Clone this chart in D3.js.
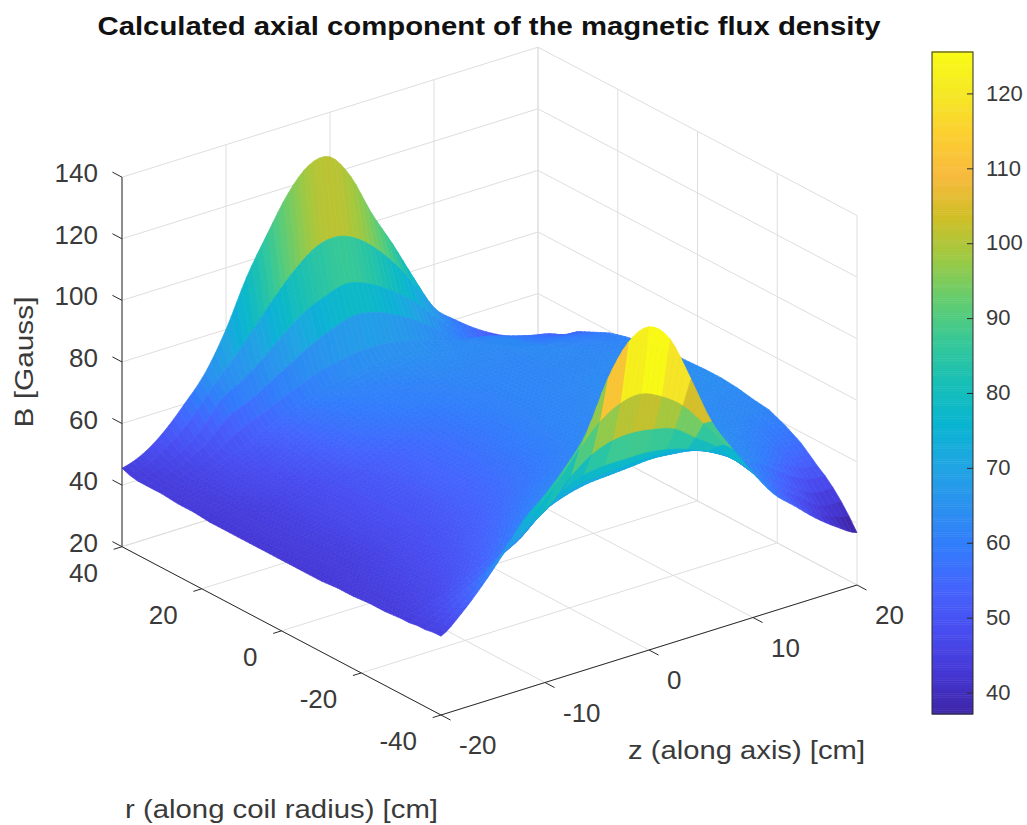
<!DOCTYPE html>
<html>
<head>
<meta charset="utf-8">
<script src="https://cdnjs.cloudflare.com/ajax/libs/d3/7.8.5/d3.min.js"></script>
<style>
body { margin: 0; background: #fff; }
text { font-family: "Liberation Sans", Arial, sans-serif; fill: #3a3a3a; }
</style>
</head>
<body>
<svg id="chart" width="1027" height="825"></svg>
<script>
// coil field surface
const rValues = [40, 38, 36, 34, 32, 30, 26, 22, 18, 14, 10, 6, 2, -2, -6, -10, -14, -18, -22, -26, -30, -32, -34, -36, -38, -40];
const zValues = [-20, -18, -16, -14, -12, -10, -8, -6, -4, -2, 0, 2, 4, 6, 8, 10, 12, 14, 16, 18, 20];
const bRows = [
    [45.5, 48, 53, 60, 68, 80, 95, 107, 118, 125, 125.5, 117, 103, 91, 78, 66, 60, 55, 51, 48, 46],
    [44.5, 47, 51, 57, 65, 72, 80, 88, 95, 100, 101, 98, 92, 84, 74, 64, 58, 54, 50, 48, 46.5],
    [44, 46, 49, 54, 62, 66, 71, 77, 82, 85, 87, 85, 81, 76, 69, 62, 57, 53, 50, 48, 47],
    [44, 45.5, 48, 52, 58, 61, 65, 69, 73, 76, 78, 77, 74, 70, 65, 60, 58, 55, 52, 50, 50],
    [44, 45, 47, 50, 54, 57, 60, 63, 65.5, 67, 68, 68, 67, 65, 63, 61, 60, 58, 56, 54.5, 52],
    [44, 45, 46.5, 49, 51.5, 54.5, 57.5, 60, 62, 63.5, 64.5, 65, 65, 64, 63, 62, 61, 59, 57, 55, 54.5],
    [43.5, 44.5, 46, 48, 50, 53, 56, 58.5, 60, 61, 62, 63, 63.5, 63.5, 63, 63, 63, 60, 59, 58, 57],
    [43.5, 44.5, 46, 47.5, 49.5, 52, 55, 57.5, 59, 60, 60.5, 61.5, 62.5, 62.5, 62.5, 62.5, 63, 62, 61, 60, 59.5],
    [43, 44, 45.5, 47, 48.5, 51, 54, 56.5, 58, 59, 60, 60.5, 61.5, 62, 62, 62, 63, 63, 62, 61.5, 61],
    [43, 44, 45, 46.5, 48, 50, 53, 55, 56.5, 58, 58.5, 60, 61, 61.5, 62, 62, 62.5, 62.5, 62.5, 62, 62],
    [43, 44, 45, 46.5, 48, 49.5, 51.5, 53, 55, 56.5, 58, 59.5, 60.5, 61.5, 62, 62, 62.5, 62.5, 63, 63, 63],
    [43, 44, 45, 46.5, 48, 49.5, 51, 53, 54.5, 56, 57.5, 59, 60.5, 61.5, 62, 62.5, 63, 63, 63.5, 63.5, 63.5],
    [43, 44, 45, 46.5, 48, 49.5, 51, 53, 54.5, 56, 57.5, 59, 60.5, 61.5, 62, 62.5, 63, 63.5, 63.5, 63.5, 63.7],
    [43, 44, 45, 46.5, 48, 49.5, 51, 53, 54.5, 56, 58, 59.5, 61, 62, 62.5, 63, 63.5, 64, 64, 64, 64],
    [43, 44, 45, 46.5, 48, 49.5, 51, 53, 54.5, 56.5, 58, 59.5, 61, 62, 62.5, 63, 63.5, 64, 64, 64, 64],
    [43, 44, 45, 46.5, 48, 49.5, 51.5, 53.5, 55, 57, 58.5, 60, 61.5, 62.5, 63, 63.5, 64, 64, 64, 63.5, 63.5],
    [43.5, 44.5, 45.5, 47, 48.5, 50, 52, 54, 56, 58, 59.5, 61, 62.5, 63.5, 64, 64, 64, 63.5, 63, 62.5, 62.5],
    [43.5, 45, 46, 47.5, 49, 51, 53, 55.5, 58, 60, 61.5, 63, 64, 64.5, 65, 64.5, 64, 63.5, 63, 62.5, 61.8],
    [44, 45, 46.5, 48, 50, 52.5, 55, 58, 60.5, 62.5, 63.5, 65, 66, 66.5, 66, 65.5, 64.5, 63.5, 62, 60, 59.5],
    [44, 45.5, 47, 49, 51.5, 54.5, 58, 61, 63.5, 65.5, 66.5, 67.5, 68, 68, 67.5, 66, 64.5, 62.5, 60, 57.5, 56.5],
    [44.5, 46, 48, 51, 54, 58, 62, 65.5, 68, 69.5, 70, 70.5, 71, 70.5, 69.5, 67, 64, 61, 57, 53.5, 52],
    [44.5, 47, 49.5, 52.5, 56, 60, 64.5, 69, 72, 73, 73.5, 74, 74, 73, 71, 67.5, 63.5, 60, 55, 51, 50],
    [45, 47.5, 51, 54.5, 59, 63, 69, 74, 77, 78, 78, 78, 77, 75, 72, 68, 62, 57, 52, 48, 47.5],
    [45, 48.5, 53, 58, 63, 68, 73, 80, 85, 87.5, 88, 87, 85, 80, 75, 68, 61, 55, 50, 45, 44.5],
    [45.5, 49.5, 55, 62, 69, 75, 82, 90, 97, 101, 102, 99, 94, 86, 77, 68, 60, 53, 47, 43, 41],
    [45.6, 51, 58, 66, 75, 81, 88, 97, 112, 122, 125, 119, 104, 88, 77, 67, 58, 52, 46, 41, 37]
];
const rTicks = [40, 20, 0, -20, -40];
const zTicks = [-20, -10, 0, 10, 20];
const bTicks = [20, 40, 60, 80, 100, 120, 140];
const colorTicks = [40, 50, 60, 70, 80, 90, 100, 110, 120];
const colorRange = [37.2, 125.6];
const parula = ["#3e26a8", "#4537d5", "#484df0", "#4563fd", "#327cfc", "#2b91ef", "#20a5e3", "#08b5d0", "#18bfb6",
    "#37c897", "#64cd6f", "#9dc943", "#d1bf27", "#f8ba3d", "#fccf30", "#f5e924", "#f9fb15"];

function surfaceConfig(){
    let width = 1027;
    let height = 825;
    let corner = {x: 122, y: 546.7};
    let alongR = {x: 319, y: 168.3};
    let alongZ = {x: 416, y: -130};
    let bodyHeight = 369.5;
    let container = d3.select("#chart");
    return {width, height, corner, alongR, alongZ, bodyHeight, container};
}

function surfaceScales(config){
    let rScale = d3.scaleLinear().domain([40, -40]).range([0, 1]);
    let zScale = d3.scaleLinear().domain([-20, 20]).range([0, 1]);
    let bScale = d3.scaleLinear().domain([20, 140]).range([0, config.bodyHeight]);
    let colorScale = d3.scaleLinear()
        .domain(d3.range(parula.length).map(i => colorRange[0] + (colorRange[1] - colorRange[0]) * i / (parula.length - 1)))
        .range(parula)
        .clamp(true);
    let {corner, alongR, alongZ} = config;
    // plain orthographic view, r runs to the front, z to the right
    let project = (r, z, b) => {
        let u = rScale(r);
        let v = zScale(z);
        return [
            corner.x + u * alongR.x + v * alongZ.x,
            corner.y + u * alongR.y + v * alongZ.y - bScale(b)
        ];
    };
    return {rScale, zScale, bScale, colorScale, project};
}

function drawWalls(scales, config){
    let {project} = scales;
    let lines = [];
    bTicks.forEach(b => {
        lines.push([project(40, -20, b), project(40, 20, b)]);
        lines.push([project(40, 20, b), project(-40, 20, b)]);
    });
    zTicks.forEach(z => {
        lines.push([project(40, z, 20), project(40, z, 140)]);
        lines.push([project(40, z, 20), project(-40, z, 20)]);
    });
    rTicks.forEach(r => {
        lines.push([project(r, 20, 20), project(r, 20, 140)]);
        lines.push([project(r, -20, 20), project(r, 20, 20)]);
    });
    config.container.append("g").selectAll("line").data(lines).enter().append("line")
        .attr("x1", d => d[0][0]).attr("y1", d => d[0][1])
        .attr("x2", d => d[1][0]).attr("y2", d => d[1][1])
        .attr("stroke", "#dedede")
        .attr("stroke-width", 1);
}

// smooth value along one row of the table, so the outline is not a polygon
function rowValue(i, z){
    let row = bRows[i];
    let t = (z - zValues[0]) / 2;
    let j = Math.min(Math.floor(t), row.length - 2);
    let f = t - j;
    let p1 = row[j];
    let p2 = row[j + 1];
    let p0 = j > 0 ? row[j - 1] : p1;
    let p3 = j < row.length - 2 ? row[j + 2] : p2;
    return p1 + 0.5 * f * (p2 - p0 + f * (2 * p0 - 5 * p1 + 4 * p2 - p3 + f * (3 * p1 - p0 - 3 * p2 + p3)));
}

function drawSurface(scales, config){
    let {project, colorScale} = scales;
    let cells = [];
    let zSteps = 4;
    let line = d3.line().curve(d3.curveLinearClosed);
    // far corner first so the near strips paint over it
    for(let i = 0; i < rValues.length - 1; i++){
        let rFar = rValues[i];
        let rNear = rValues[i + 1];
        let rSteps = Math.abs(rFar - rNear) > 2 ? 4 : 1;
        let outer = Math.min(Math.abs(rFar), Math.abs(rNear)) >= 34;
        for(let s = 0; s < rSteps; s++){
            let f0 = s / rSteps;
            let f1 = (s + 1) / rSteps;
            let r0 = rFar + (rNear - rFar) * f0;
            let r1 = rFar + (rNear - rFar) * f1;
            let height = (f, z) => rowValue(i, z) + (rowValue(i + 1, z) - rowValue(i, z)) * f;
            for(let j = zValues.length - 2; j >= 0; j--){
                for(let k = zSteps - 1; k >= 0; k--){
                    let z0 = zValues[j] + (zValues[j + 1] - zValues[j]) * k / zSteps;
                    let z1 = zValues[j] + (zValues[j + 1] - zValues[j]) * (k + 1) / zSteps;
                    // outer strips take the colour of their lower r edge, the front peak keeps its streaks
                    let value = height(f1, z0);
                    if(outer && rNear < 0 && Math.abs(zValues[j]) <= 8){
                        value = bRows[i + 1][j];
                    }
                    cells.push({
                        corners: [
                            project(r0, z0, height(f0, z0)),
                            project(r0, z1, height(f0, z1)),
                            project(r1, z1, height(f1, z1)),
                            project(r1, z0, height(f1, z0))
                        ],
                        value
                    });
                }
            }
        }
    }
    let defs = config.container.append("defs");
    defs.append("filter").attr("id", "soft")
        .attr("x", "-2%").attr("y", "-2%").attr("width", "104%").attr("height", "104%")
        .append("feGaussianBlur").attr("stdDeviation", 0.7);
    config.container.append("g").attr("filter", "url(#soft)")
        .selectAll("path").data(cells).enter().append("path")
        .attr("d", d => line(d.corners))
        .attr("fill", d => colorScale(d.value))
        .attr("stroke", d => colorScale(d.value))
        .attr("stroke-width", 0.7)
        .attr("stroke-linejoin", "round");
}

function drawAxes(scales, config){
    let {project} = scales;
    let g = config.container.append("g");
    let ink = "#2b2b2b";
    let segment = (a, b) => g.append("line")
        .attr("x1", a[0]).attr("y1", a[1])
        .attr("x2", b[0]).attr("y2", b[1])
        .attr("stroke", ink)
        .attr("stroke-width", 1);
    segment(project(40, -20, 20), project(40, -20, 140));
    segment(project(40, -20, 20), project(-40, -20, 20));
    segment(project(-40, -20, 20), project(-40, 20, 20));

    bTicks.forEach(b => {
        let p = project(40, -20, b);
        segment(p, project(42.4, -20, b));
        g.append("text").attr("x", 98).attr("y", p[1] - 4).attr("dy", "0.35em")
            .attr("text-anchor", "end").attr("font-size", 26).text(b);
    });
    rTicks.forEach(r => {
        let p = project(r, -20, 20);
        segment(p, project(r, -20.8, 20));
        g.append("text").attr("x", p[0] - 24).attr("y", p[1] + 26).attr("dy", "0.35em")
            .attr("text-anchor", "end").attr("font-size", 26).text(r);
    });
    zTicks.forEach(z => {
        let p = project(-40, z, 20);
        segment(p, project(-42.4, z, 20));
        g.append("text").attr("x", p[0] + 18).attr("y", p[1] + 30).attr("dy", "0.35em")
            .attr("text-anchor", "start").attr("font-size", 26).text(z);
    });
}

function drawColorbar(scales, config){
    let {colorScale} = scales;
    let top = 52;
    let bottom = 714;
    let left = 932;
    let barWidth = 41;
    let y = d3.scaleLinear().domain(colorRange).range([bottom, top]);
    let g = config.container.append("g");
    let steps = d3.range(colorRange[0], colorRange[1], 0.25);
    g.selectAll("rect").data(steps).enter().append("rect")
        .attr("x", left).attr("width", barWidth)
        .attr("y", d => y(d + 0.25)).attr("height", d => y(d) - y(d + 0.25) + 0.5)
        .attr("fill", d => colorScale(d));
    g.append("rect")
        .attr("x", left).attr("y", top)
        .attr("width", barWidth).attr("height", bottom - top)
        .attr("fill", "none").attr("stroke", "#2b2b2b");
    colorTicks.forEach(t => {
        g.append("line")
            .attr("x1", left + barWidth - 6).attr("x2", left + barWidth)
            .attr("y1", y(t)).attr("y2", y(t))
            .attr("stroke", "#2b2b2b");
        g.append("text").attr("x", 986).attr("y", y(t) - 1).attr("dy", "0.35em")
            .attr("font-size", 22).text(t);
    });
}

function drawLabels(config){
    let {container} = config;
    container.append("text")
        .attr("x", 489).attr("y", 35)
        .attr("text-anchor", "middle")
        .attr("font-size", 25).attr("font-weight", "bold")
        .style("fill", "#111")
        .attr("textLength", 783).attr("lengthAdjust", "spacingAndGlyphs")
        .text("Calculated axial component of the magnetic flux density");
    container.append("text")
        .attr("transform", "translate(33,362) rotate(-90)")
        .attr("text-anchor", "middle")
        .attr("font-size", 26)
        .attr("textLength", 131).attr("lengthAdjust", "spacingAndGlyphs")
        .text("B [Gauss]");
    container.append("text")
        .attr("x", 628).attr("y", 759)
        .attr("font-size", 26)
        .attr("textLength", 237).attr("lengthAdjust", "spacingAndGlyphs")
        .text("z (along axis) [cm]");
    container.append("text")
        .attr("x", 125).attr("y", 818)
        .attr("font-size", 26)
        .attr("textLength", 313).attr("lengthAdjust", "spacingAndGlyphs")
        .text("r (along coil radius) [cm]");
}

let config = surfaceConfig();
let scales = surfaceScales(config);
drawWalls(scales, config);
drawSurface(scales, config);
drawAxes(scales, config);
drawColorbar(scales, config);
drawLabels(config);
</script>
</body>
</html>
